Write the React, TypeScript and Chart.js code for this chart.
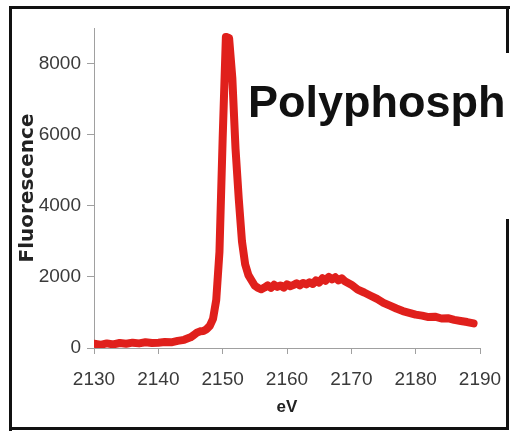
import React, { useEffect, useRef } from "react";
import { Chart, registerables } from "chart.js";

Chart.register(...registerables);

const energies: number[] = [
  2130, 2131, 2132, 2133, 2134, 2135, 2136, 2137, 2138, 2139, 2140, 2141, 2142, 2143, 2144, 2145,
  2145.5, 2146, 2146.5, 2147, 2147.5, 2148, 2148.5, 2149, 2149.5, 2150, 2150.5, 2151, 2151.5, 2152,
  2152.5, 2153, 2153.5, 2154, 2154.5, 2155, 2155.5, 2156, 2156.5, 2157, 2157.5, 2158, 2158.5, 2159,
  2159.5, 2160, 2160.5, 2161, 2161.5, 2162, 2162.5, 2163, 2163.5, 2164, 2164.5, 2165, 2165.5, 2166,
  2166.5, 2167, 2167.5, 2168, 2168.5, 2169, 2170, 2171, 2172, 2173, 2174, 2175, 2176, 2177, 2178,
  2179, 2180, 2181, 2182, 2183, 2184, 2185, 2186, 2187, 2188, 2189,
];

const fluorescence: number[] = [
  120, 90, 130, 100, 140, 120, 150, 130, 160, 140, 150, 170, 160, 200, 230, 300,
  360, 430, 470, 480, 530, 620, 820, 1350, 2700, 5900, 8750, 8720, 7600, 5600,
  4200, 3000, 2350, 2050, 1900, 1750, 1690, 1650, 1700, 1760, 1690, 1780, 1720, 1760,
  1700, 1790, 1740, 1770, 1820, 1760, 1830, 1790, 1850, 1800, 1900, 1840, 1960, 1890,
  2000, 1930, 1990, 1900, 1960, 1880, 1780, 1640, 1560, 1470, 1380, 1270, 1190, 1110, 1040,
  990, 940, 910, 870, 880, 830, 840, 790, 760, 730, 690,
];

const xTicks: number[] = [2130, 2140, 2150, 2160, 2170, 2180, 2190];
const yTicks: number[] = [0, 2000, 4000, 6000, 8000];

const xTitle = "eV";
const yTitle = "Fluorescence";
const labelText = "Polyphosph";

export default function App() {
  const canvasRef = useRef<HTMLCanvasElement | null>(null);

  useEffect(() => {
    const canvas = canvasRef.current;
    if (!canvas) return;
    const chart = new Chart(canvas, {
      type: "line",
      data: {
        datasets: [
          {
            data: energies.map((e, i) => ({ x: e, y: fluorescence[i] })),
            borderColor: "#e0201c",
            borderWidth: 8,
            pointRadius: 0,
            tension: 0,
            borderJoinStyle: "round",
            borderCapStyle: "round",
            fill: false,
          },
        ],
      },
      options: {
        responsive: false,
        animation: false,
        layout: { padding: { left: 0, right: 30, top: 28, bottom: 0 } },
        plugins: { legend: { display: false }, tooltip: { enabled: false } },
        scales: {
          x: {
            type: "linear",
            min: xTicks[0],
            max: xTicks[xTicks.length - 1],
            afterBuildTicks: (s: any) => {
              s.ticks = xTicks.map((v) => ({ value: v }));
            },
            afterFit: (s: any) => {
              s.height = 86;
              s.paddingLeft = 0;
              s.paddingRight = 0;
            },
            border: { display: true, color: "#a0a0a0", width: 1 },
            grid: { drawOnChartArea: false, drawTicks: true, tickLength: 6, color: "#a0a0a0" },
            ticks: {
              padding: 14,
              color: "#3a3a3a",
              font: { family: "Liberation Sans", size: 19 },
              maxRotation: 0,
              callback: (v: any) => String(v),
            },
            title: {
              display: true,
              text: xTitle,
              color: "#222",
              font: { family: "Liberation Sans", size: 17, weight: "bold" },
              padding: { top: 0, bottom: 16 },
            },
          },
          y: {
            type: "linear",
            min: 0,
            max: 9000,
            afterBuildTicks: (s: any) => {
              s.ticks = yTicks.map((v) => ({ value: v }));
            },
            afterFit: (s: any) => {
              s.width = 94;
              s.paddingTop = 0;
              s.paddingBottom = 0;
            },
            border: { display: true, color: "#a0a0a0", width: 1 },
            grid: { drawOnChartArea: false, drawTicks: true, tickLength: 7, color: "#a0a0a0" },
            ticks: {
              padding: 6,
              color: "#3a3a3a",
              font: { family: "Liberation Sans", size: 19 },
              callback: (v: any) => String(v),
            },
            title: {
              display: true,
              text: yTitle,
              color: "#222",
              font: { family: "DejaVu Sans", size: 20, weight: "bold" },
              padding: { top: 16, bottom: 0 },
            },
          },
        },
      },
    });
    return () => chart.destroy();
  }, []);

  const bar = (style: React.CSSProperties) => (
    <div style={{ position: "absolute", background: "#111", ...style }} />
  );

  return (
    <div
      style={{
        position: "absolute",
        left: 0,
        top: 0,
        width: 510,
        height: 434,
        overflow: "hidden",
        background: "#fff",
      }}
    >
      <canvas
        ref={canvasRef}
        width={510}
        height={434}
        style={{ position: "absolute", left: 0, top: 0, display: "block" }}
      />
      <div
        style={{
          position: "absolute",
          left: 248,
          top: 79,
          fontFamily: "Liberation Sans",
          fontWeight: "bold",
          fontSize: 45,
          lineHeight: 1,
          color: "#111",
          whiteSpace: "nowrap",
        }}
      >
        {labelText}
      </div>
      {bar({ left: 9, top: 6, width: 501, height: 3 })}
      {bar({ left: 9, top: 6, width: 3, height: 425 })}
      {bar({ left: 9, top: 427, width: 500, height: 3 })}
      {bar({ left: 506, top: 6, width: 3, height: 47 })}
      {bar({ left: 506, top: 219, width: 3, height: 211 })}
    </div>
  );
}
